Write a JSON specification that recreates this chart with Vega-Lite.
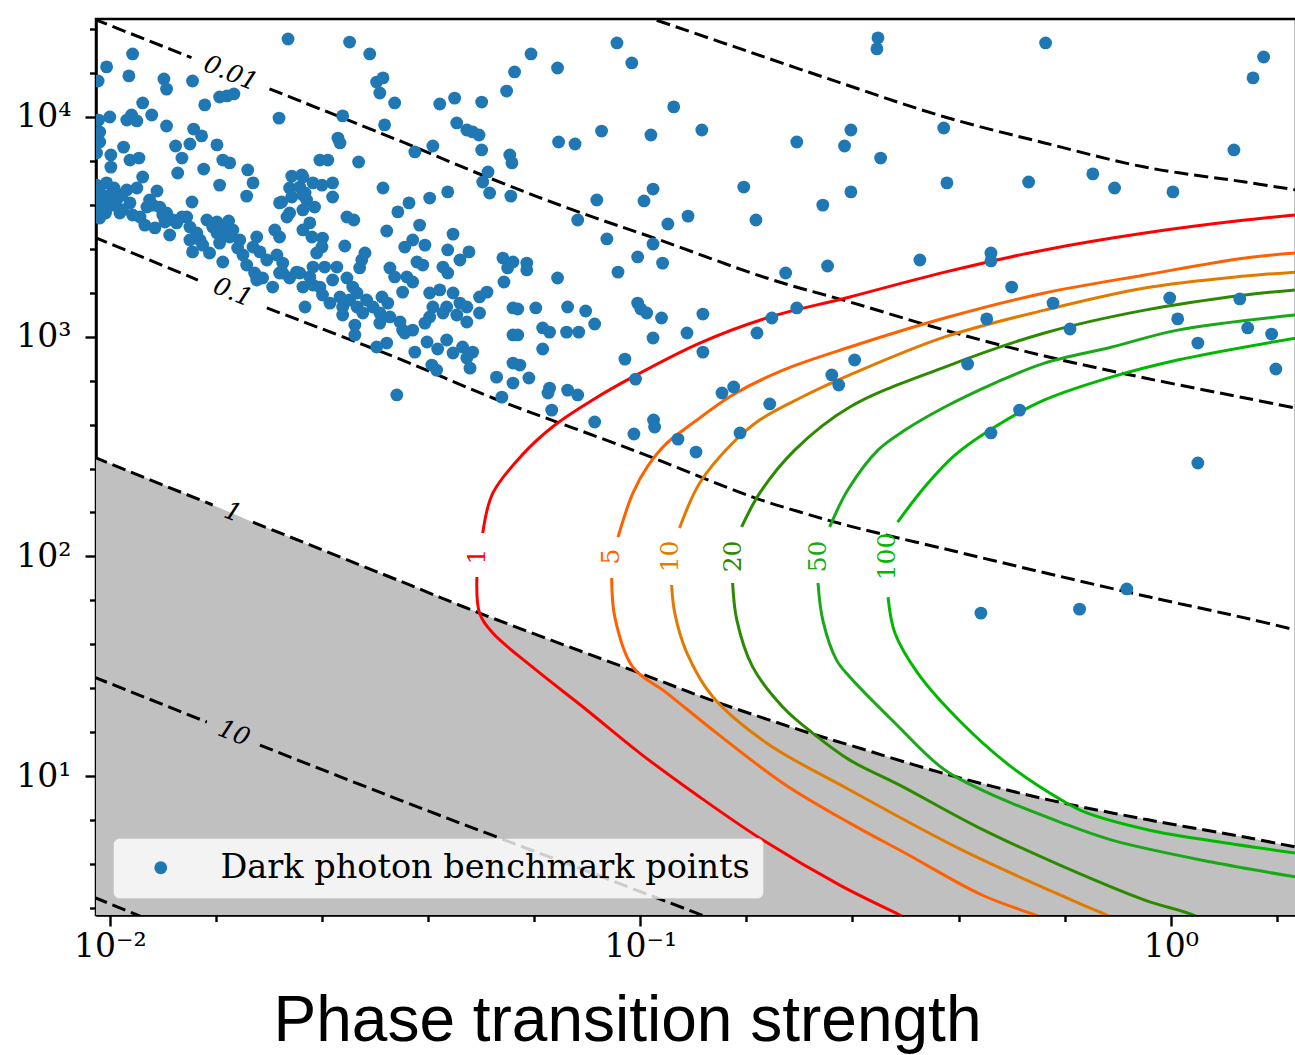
{
  "$schema": "https://vega.github.io/schema/vega-lite/v6.json",
  "width": 1200,
  "height": 896,
  "autosize": {"type": "none"},
  "padding": {"left": 96, "top": 19, "right": 0, "bottom": 140},
  "background": "white",
  "config": {
    "view": {"stroke": "black", "strokeWidth": 2.5},
    "axis": {"grid": false, "domainColor": "black", "domainWidth": 2.5, "tickColor": "black", "tickWidth": 2.4, "labelColor": "black", "labelFont": "DejaVu Serif", "labelFontSize": 33, "zindex": 1, "labelOverlap": false, "labelFlush": false}
  },
  "datasets": {
    "shade": [
      {"lx":-2.030,"ly":2.452},{"lx":-1.806,"ly":2.234},{"lx":-1.730,"ly":2.156},{"lx":-1.453,"ly":1.888},{"lx":-1.303,"ly":1.742},{"lx":-1.001,"ly":1.469},{"lx":-0.856,"ly":1.337},{"lx":-0.686,"ly":1.200},{"lx":-0.605,"ly":1.141},{"lx":-0.417,"ly":1.005},{"lx":-0.228,"ly":0.891},{"lx":-0.040,"ly":0.800},{"lx":0.149,"ly":0.718},{"lx":0.236,"ly":0.677}
    ],
    "dash": [
      {"seg":"a","o":0,"lx":-1.076,"ly":4.528},{"seg":"a","o":1,"lx":-0.976,"ly":4.446},{"seg":"a","o":2,"lx":-0.794,"ly":4.296},{"seg":"a","o":3,"lx":-0.605,"ly":4.141},{"seg":"a","o":4,"lx":-0.426,"ly":4.0},{"seg":"a","o":5,"lx":-0.238,"ly":3.882},{"seg":"a","o":6,"lx":-0.049,"ly":3.772},{"seg":"a","o":7,"lx":0.140,"ly":3.704},{"seg":"a","o":8,"lx":0.236,"ly":3.668},
      {"seg":"b1","o":0,"lx":-2.030,"ly":4.446},{"seg":"b1","o":1,"lx":-1.846,"ly":4.270},
      {"seg":"b2","o":0,"lx":-1.699,"ly":4.128},{"seg":"b2","o":1,"lx":-1.453,"ly":3.891},{"seg":"b2","o":2,"lx":-1.284,"ly":3.722},{"seg":"b2","o":3,"lx":-1.127,"ly":3.577},{"seg":"b2","o":4,"lx":-0.963,"ly":3.440},{"seg":"b2","o":5,"lx":-0.762,"ly":3.267},{"seg":"b2","o":6,"lx":-0.605,"ly":3.158},{"seg":"b2","o":7,"lx":-0.426,"ly":3.030},{"seg":"b2","o":8,"lx":-0.238,"ly":2.912},{"seg":"b2","o":9,"lx":-0.049,"ly":2.812},{"seg":"b2","o":10,"lx":0.140,"ly":2.721},{"seg":"b2","o":11,"lx":0.236,"ly":2.675},
      {"seg":"c1","o":0,"lx":-2.030,"ly":3.454},{"seg":"c1","o":1,"lx":-1.834,"ly":3.258},
      {"seg":"c2","o":0,"lx":-1.704,"ly":3.131},{"seg":"c2","o":1,"lx":-1.453,"ly":2.898},{"seg":"c2","o":2,"lx":-1.278,"ly":2.721},{"seg":"c2","o":3,"lx":-1.014,"ly":2.484},{"seg":"c2","o":4,"lx":-0.788,"ly":2.270},{"seg":"c2","o":5,"lx":-0.699,"ly":2.202},{"seg":"c2","o":6,"lx":-0.605,"ly":2.138},{"seg":"c2","o":7,"lx":-0.417,"ly":2.029},{"seg":"c2","o":8,"lx":-0.228,"ly":1.920},{"seg":"c2","o":9,"lx":-0.040,"ly":1.815},{"seg":"c2","o":10,"lx":0.149,"ly":1.715},{"seg":"c2","o":11,"lx":0.236,"ly":1.665},
      {"seg":"d1","o":0,"lx":-2.030,"ly":2.452},{"seg":"d1","o":1,"lx":-1.806,"ly":2.234},
      {"seg":"d2","o":0,"lx":-1.730,"ly":2.156},{"seg":"d2","o":1,"lx":-1.453,"ly":1.888},{"seg":"d2","o":2,"lx":-1.303,"ly":1.742},{"seg":"d2","o":3,"lx":-1.001,"ly":1.469},{"seg":"d2","o":4,"lx":-0.856,"ly":1.337},{"seg":"d2","o":5,"lx":-0.686,"ly":1.200},{"seg":"d2","o":6,"lx":-0.605,"ly":1.141},{"seg":"d2","o":7,"lx":-0.417,"ly":1.005},{"seg":"d2","o":8,"lx":-0.228,"ly":0.891},{"seg":"d2","o":9,"lx":-0.040,"ly":0.800},{"seg":"d2","o":10,"lx":0.149,"ly":0.718},{"seg":"d2","o":11,"lx":0.236,"ly":0.677},
      {"seg":"e1","o":0,"lx":-2.030,"ly":1.451},{"seg":"e1","o":1,"lx":-1.817,"ly":1.246},
      {"seg":"e2","o":0,"lx":-1.717,"ly":1.141},{"seg":"e2","o":1,"lx":-1.453,"ly":0.891},{"seg":"e2","o":2,"lx":-1.265,"ly":0.718},{"seg":"e2","o":3,"lx":-1.076,"ly":0.545},{"seg":"e2","o":4,"lx":-0.850,"ly":0.336},
      {"seg":"f","o":0,"lx":-2.030,"ly":0.449},{"seg":"f","o":1,"lx":-1.934,"ly":0.354}
    ],
    "cont": [
      {"level":"1","seg":"1a","o":0,"lx":0.236,"ly":3.554},{"level":"1","seg":"1a","o":1,"lx":0.140,"ly":3.531},{"level":"1","seg":"1a","o":2,"lx":-0.049,"ly":3.472},{"level":"1","seg":"1a","o":3,"lx":-0.238,"ly":3.395},{"level":"1","seg":"1a","o":4,"lx":-0.426,"ly":3.294},{"level":"1","seg":"1a","o":5,"lx":-0.605,"ly":3.181},{"level":"1","seg":"1a","o":6,"lx":-0.762,"ly":3.085},{"level":"1","seg":"1a","o":7,"lx":-0.888,"ly":2.971},{"level":"1","seg":"1a","o":8,"lx":-1.014,"ly":2.817},{"level":"1","seg":"1a","o":9,"lx":-1.090,"ly":2.712},{"level":"1","seg":"1a","o":10,"lx":-1.161,"ly":2.598},{"level":"1","seg":"1a","o":11,"lx":-1.223,"ly":2.461},{"level":"1","seg":"1a","o":12,"lx":-1.278,"ly":2.288},{"level":"1","seg":"1a","o":13,"lx":-1.297,"ly":2.106},
      {"level":"1","seg":"1b","o":0,"lx":-1.308,"ly":1.906},{"level":"1","seg":"1b","o":1,"lx":-1.303,"ly":1.742},{"level":"1","seg":"1b","o":2,"lx":-1.278,"ly":1.651},{"level":"1","seg":"1b","o":3,"lx":-1.203,"ly":1.496},{"level":"1","seg":"1b","o":4,"lx":-1.101,"ly":1.301},{"level":"1","seg":"1b","o":5,"lx":-1.001,"ly":1.105},{"level":"1","seg":"1b","o":6,"lx":-0.888,"ly":0.905},{"level":"1","seg":"1b","o":7,"lx":-0.769,"ly":0.709},{"level":"1","seg":"1b","o":8,"lx":-0.624,"ly":0.504},{"level":"1","seg":"1b","o":9,"lx":-0.511,"ly":0.368},{"level":"1","seg":"1b","o":10,"lx":-0.454,"ly":0.299},
      {"level":"5","seg":"5a","o":0,"lx":0.236,"ly":3.381},{"level":"5","seg":"5a","o":1,"lx":0.140,"ly":3.358},{"level":"5","seg":"5a","o":2,"lx":-0.049,"ly":3.281},{"level":"5","seg":"5a","o":3,"lx":-0.238,"ly":3.199},{"level":"5","seg":"5a","o":4,"lx":-0.426,"ly":3.085},{"level":"5","seg":"5a","o":5,"lx":-0.605,"ly":2.953},{"level":"5","seg":"5a","o":6,"lx":-0.731,"ly":2.848},{"level":"5","seg":"5a","o":7,"lx":-0.826,"ly":2.735},{"level":"5","seg":"5a","o":8,"lx":-0.901,"ly":2.607},{"level":"5","seg":"5a","o":9,"lx":-0.950,"ly":2.516},{"level":"5","seg":"5a","o":10,"lx":-0.986,"ly":2.411},{"level":"5","seg":"5a","o":11,"lx":-1.014,"ly":2.288},{"level":"5","seg":"5a","o":12,"lx":-1.042,"ly":2.088},
      {"level":"5","seg":"5b","o":0,"lx":-1.054,"ly":1.902},{"level":"5","seg":"5b","o":1,"lx":-1.048,"ly":1.724},{"level":"5","seg":"5b","o":2,"lx":-1.014,"ly":1.496},{"level":"5","seg":"5b","o":3,"lx":-0.950,"ly":1.378},{"level":"5","seg":"5b","o":4,"lx":-0.856,"ly":1.196},{"level":"5","seg":"5b","o":5,"lx":-0.731,"ly":0.968},{"level":"5","seg":"5b","o":6,"lx":-0.605,"ly":0.786},{"level":"5","seg":"5b","o":7,"lx":-0.501,"ly":0.650},{"level":"5","seg":"5b","o":8,"lx":-0.356,"ly":0.459},{"level":"5","seg":"5b","o":9,"lx":-0.256,"ly":0.368},{"level":"5","seg":"5b","o":10,"lx":-0.190,"ly":0.308},
      {"level":"10","seg":"10a","o":0,"lx":0.236,"ly":3.294},{"level":"10","seg":"10a","o":1,"lx":0.140,"ly":3.276},{"level":"10","seg":"10a","o":2,"lx":-0.049,"ly":3.222},{"level":"10","seg":"10a","o":3,"lx":-0.238,"ly":3.121},{"level":"10","seg":"10a","o":4,"lx":-0.426,"ly":2.999},{"level":"10","seg":"10a","o":5,"lx":-0.605,"ly":2.826},{"level":"10","seg":"10a","o":6,"lx":-0.699,"ly":2.721},{"level":"10","seg":"10a","o":7,"lx":-0.775,"ly":2.621},{"level":"10","seg":"10a","o":8,"lx":-0.826,"ly":2.516},{"level":"10","seg":"10a","o":9,"lx":-0.888,"ly":2.334},{"level":"10","seg":"10a","o":10,"lx":-0.926,"ly":2.129},
      {"level":"10","seg":"10b","o":0,"lx":-0.941,"ly":1.870},{"level":"10","seg":"10b","o":1,"lx":-0.935,"ly":1.742},{"level":"10","seg":"10b","o":2,"lx":-0.912,"ly":1.560},{"level":"10","seg":"10b","o":3,"lx":-0.863,"ly":1.360},{"level":"10","seg":"10b","o":4,"lx":-0.762,"ly":1.151},{"level":"10","seg":"10b","o":5,"lx":-0.605,"ly":0.937},{"level":"10","seg":"10b","o":6,"lx":-0.394,"ly":0.664},{"level":"10","seg":"10b","o":7,"lx":-0.187,"ly":0.436},{"level":"10","seg":"10b","o":8,"lx":-0.121,"ly":0.368},{"level":"10","seg":"10b","o":9,"lx":-0.058,"ly":0.299},
      {"level":"20","seg":"20a","o":0,"lx":0.236,"ly":3.213},{"level":"20","seg":"20a","o":1,"lx":0.140,"ly":3.190},{"level":"20","seg":"20a","o":2,"lx":-0.049,"ly":3.121},{"level":"20","seg":"20a","o":3,"lx":-0.238,"ly":3.017},{"level":"20","seg":"20a","o":4,"lx":-0.426,"ly":2.862},{"level":"20","seg":"20a","o":5,"lx":-0.605,"ly":2.680},{"level":"20","seg":"20a","o":6,"lx":-0.709,"ly":2.484},{"level":"20","seg":"20a","o":7,"lx":-0.775,"ly":2.288},{"level":"20","seg":"20a","o":8,"lx":-0.809,"ly":2.134},
      {"level":"20","seg":"20b","o":0,"lx":-0.826,"ly":1.879},{"level":"20","seg":"20b","o":1,"lx":-0.818,"ly":1.710},{"level":"20","seg":"20b","o":2,"lx":-0.788,"ly":1.496},{"level":"20","seg":"20b","o":3,"lx":-0.731,"ly":1.314},{"level":"20","seg":"20b","o":4,"lx":-0.675,"ly":1.196},{"level":"20","seg":"20b","o":5,"lx":-0.605,"ly":1.073},{"level":"20","seg":"20b","o":6,"lx":-0.511,"ly":0.959},{"level":"20","seg":"20b","o":7,"lx":-0.364,"ly":0.768},{"level":"20","seg":"20b","o":8,"lx":-0.209,"ly":0.595},{"level":"20","seg":"20b","o":9,"lx":-0.049,"ly":0.436},{"level":"20","seg":"20b","o":10,"lx":0.042,"ly":0.368},{"level":"20","seg":"20b","o":11,"lx":0.102,"ly":0.299},
      {"level":"50","seg":"50a","o":0,"lx":0.236,"ly":3.099},{"level":"50","seg":"50a","o":1,"lx":0.013,"ly":3.030},{"level":"50","seg":"50a","o":2,"lx":-0.111,"ly":2.953},{"level":"50","seg":"50a","o":3,"lx":-0.238,"ly":2.880},{"level":"50","seg":"50a","o":4,"lx":-0.332,"ly":2.789},{"level":"50","seg":"50a","o":5,"lx":-0.426,"ly":2.680},{"level":"50","seg":"50a","o":6,"lx":-0.501,"ly":2.575},{"level":"50","seg":"50a","o":7,"lx":-0.552,"ly":2.484},{"level":"50","seg":"50a","o":8,"lx":-0.609,"ly":2.302},{"level":"50","seg":"50a","o":9,"lx":-0.643,"ly":2.134},
      {"level":"50","seg":"50b","o":0,"lx":-0.665,"ly":1.879},{"level":"50","seg":"50b","o":1,"lx":-0.656,"ly":1.710},{"level":"50","seg":"50b","o":2,"lx":-0.630,"ly":1.528},{"level":"50","seg":"50b","o":3,"lx":-0.605,"ly":1.451},{"level":"50","seg":"50b","o":4,"lx":-0.520,"ly":1.242},{"level":"50","seg":"50b","o":5,"lx":-0.426,"ly":1.028},{"level":"50","seg":"50b","o":6,"lx":-0.322,"ly":0.900},{"level":"50","seg":"50b","o":7,"lx":-0.209,"ly":0.791},{"level":"50","seg":"50b","o":8,"lx":-0.111,"ly":0.709},{"level":"50","seg":"50b","o":9,"lx":0.077,"ly":0.609},{"level":"50","seg":"50b","o":10,"lx":0.236,"ly":0.541},
      {"level":"100","seg":"100a","o":0,"lx":0.236,"ly":2.994},{"level":"100","seg":"100a","o":1,"lx":0.013,"ly":2.894},{"level":"100","seg":"100a","o":2,"lx":-0.111,"ly":2.817},{"level":"100","seg":"100a","o":3,"lx":-0.238,"ly":2.712},{"level":"100","seg":"100a","o":4,"lx":-0.332,"ly":2.589},{"level":"100","seg":"100a","o":5,"lx":-0.407,"ly":2.461},{"level":"100","seg":"100a","o":6,"lx":-0.464,"ly":2.316},{"level":"100","seg":"100a","o":7,"lx":-0.515,"ly":2.156},
      {"level":"100","seg":"100b","o":0,"lx":-0.533,"ly":1.815},{"level":"100","seg":"100b","o":1,"lx":-0.520,"ly":1.651},{"level":"100","seg":"100b","o":2,"lx":-0.477,"ly":1.469},{"level":"100","seg":"100b","o":3,"lx":-0.394,"ly":1.242},{"level":"100","seg":"100b","o":4,"lx":-0.300,"ly":1.041},{"level":"100","seg":"100b","o":5,"lx":-0.206,"ly":0.891},{"level":"100","seg":"100b","o":6,"lx":-0.162,"ly":0.836},{"level":"100","seg":"100b","o":7,"lx":-0.040,"ly":0.754},{"level":"100","seg":"100b","o":8,"lx":0.092,"ly":0.700},{"level":"100","seg":"100b","o":9,"lx":0.236,"ly":0.650}
    ],
    "dlab": [
      {"t":"0.01","lx":-1.772,"ly":4.200},{"t":"0.1","lx":-1.768,"ly":3.203},{"t":"1","lx":-1.768,"ly":2.202},{"t":"10","lx":-1.766,"ly":1.196}
    ],
    "clab": [
      {"level":"1","lx":-1.308,"ly":2.0},{"level":"5","lx":-1.056,"ly":2.0},{"level":"10","lx":-0.944,"ly":2.0},{"level":"20","lx":-0.826,"ly":2.0},{"level":"50","lx":-0.665,"ly":2.0},{"level":"100","lx":-0.535,"ly":2.0}
    ],
    "pts": [
      {"lx":-1.664,"ly":4.355},{"lx":-1.957,"ly":4.287},{"lx":-2.006,"ly":4.228},{"lx":-1.964,"ly":4.187},{"lx":-1.898,"ly":4.173},{"lx":-1.893,"ly":4.127},{"lx":-1.844,"ly":4.164},{"lx":-2.022,"ly":4.164},{"lx":-1.793,"ly":4.091},{"lx":-1.779,"ly":4.096},
      {"lx":-1.766,"ly":4.105},{"lx":-1.821,"ly":4.055},{"lx":-1.681,"ly":3.995},{"lx":-1.938,"ly":4.064},{"lx":-1.921,"ly":4.009},{"lx":-2.0,"ly":4.0},{"lx":-2.021,"ly":3.986},{"lx":-1.968,"ly":3.986},{"lx":-1.959,"ly":4.009},{"lx":-1.949,"ly":3.982},
      {"lx":-1.893,"ly":3.959},{"lx":-1.842,"ly":3.945},{"lx":-1.827,"ly":3.914},{"lx":-1.849,"ly":3.877},{"lx":-1.876,"ly":3.868},{"lx":-1.798,"ly":3.873},{"lx":-2.019,"ly":3.886},{"lx":-1.974,"ly":3.863},{"lx":-1.998,"ly":3.827},{"lx":-2.025,"ly":3.836},
      {"lx":-1.962,"ly":3.804},{"lx":-1.945,"ly":3.813},{"lx":-1.864,"ly":3.813},{"lx":-1.998,"ly":3.772},{"lx":-1.787,"ly":3.804},{"lx":-1.774,"ly":3.791},{"lx":-1.823,"ly":3.763},{"lx":-1.872,"ly":3.745},{"lx":-1.938,"ly":3.727},{"lx":-1.740,"ly":3.759},
      {"lx":-1.730,"ly":3.700},{"lx":-1.793,"ly":3.690},{"lx":-1.657,"ly":3.731},{"lx":-1.638,"ly":3.736},{"lx":-1.911,"ly":3.663},{"lx":-1.742,"ly":3.640},{"lx":-1.845,"ly":3.613},{"lx":-1.661,"ly":3.677},{"lx":-1.642,"ly":3.681},{"lx":-1.676,"ly":3.613},
      {"lx":-1.657,"ly":3.636},{"lx":-1.636,"ly":3.645},{"lx":-2.019,"ly":3.932},{"lx":-2.025,"ly":3.690},{"lx":-2.019,"ly":3.659},{"lx":-2.025,"ly":3.622},{"lx":-2.013,"ly":3.599},{"lx":-2.019,"ly":3.577},{"lx":-2.008,"ly":3.563},{"lx":-2.019,"ly":3.540},
      {"lx":-2.0,"ly":3.645},{"lx":-1.996,"ly":3.599},{"lx":-1.987,"ly":3.622},{"lx":-1.976,"ly":3.577},{"lx":-1.962,"ly":3.609},{"lx":-1.943,"ly":3.545},{"lx":-1.930,"ly":3.590},{"lx":-1.925,"ly":3.622},{"lx":-1.919,"ly":3.599},{"lx":-1.977,"ly":3.645},
      {"lx":-1.949,"ly":3.677},{"lx":-1.906,"ly":3.590},{"lx":-1.893,"ly":3.563},{"lx":-1.881,"ly":3.531},{"lx":-1.864,"ly":3.545},{"lx":-1.900,"ly":3.554},{"lx":-1.915,"ly":3.495},{"lx":-1.887,"ly":3.463},{"lx":-1.896,"ly":3.522},{"lx":-1.874,"ly":3.518},
      {"lx":-1.855,"ly":3.545},{"lx":-1.849,"ly":3.499},{"lx":-1.836,"ly":3.472},{"lx":-1.830,"ly":3.440},{"lx":-1.817,"ly":3.531},{"lx":-1.806,"ly":3.499},{"lx":-1.793,"ly":3.472},{"lx":-1.779,"ly":3.499},{"lx":-1.768,"ly":3.486},{"lx":-1.755,"ly":3.440},
      {"lx":-1.798,"ly":3.522},{"lx":-1.776,"ly":3.527},{"lx":-1.849,"ly":3.440},{"lx":-1.844,"ly":3.386},{"lx":-1.825,"ly":3.417},{"lx":-1.812,"ly":3.381},{"lx":-1.793,"ly":3.426},{"lx":-1.787,"ly":3.340},{"lx":-1.798,"ly":3.472},{"lx":-1.774,"ly":3.454},
      {"lx":-1.759,"ly":3.404},{"lx":-1.749,"ly":3.372},{"lx":-1.742,"ly":3.326},{"lx":-1.723,"ly":3.454},{"lx":-1.717,"ly":3.386},{"lx":-1.704,"ly":3.349},{"lx":-1.727,"ly":3.290},{"lx":-1.712,"ly":3.267},{"lx":-1.693,"ly":3.226},{"lx":-1.685,"ly":3.372},
      {"lx":-1.674,"ly":3.290},{"lx":-1.661,"ly":3.267},{"lx":-1.648,"ly":3.294},{"lx":-1.636,"ly":3.226},{"lx":-1.623,"ly":3.272},{"lx":-1.632,"ly":3.135},{"lx":-1.680,"ly":3.609},{"lx":-1.666,"ly":3.545},{"lx":-1.636,"ly":3.577},{"lx":-1.623,"ly":3.518},
      {"lx":-1.689,"ly":3.486},{"lx":-1.680,"ly":3.454},{"lx":-1.730,"ly":3.408},{"lx":-1.723,"ly":3.258},{"lx":-1.680,"ly":3.290},{"lx":-1.674,"ly":3.335},{"lx":-1.661,"ly":3.563},{"lx":-1.629,"ly":3.622},{"lx":-1.614,"ly":3.590},{"lx":-1.636,"ly":3.486},
      {"lx":-1.619,"ly":3.454},{"lx":-1.617,"ly":3.700},{"lx":-1.600,"ly":3.690},{"lx":-1.580,"ly":3.700},{"lx":-1.580,"ly":3.636},{"lx":-1.992,"ly":3.677},{"lx":-2.013,"ly":3.636},{"lx":-2.006,"ly":3.700},{"lx":-1.981,"ly":3.563},{"lx":-1.957,"ly":3.554},
      {"lx":-1.934,"ly":3.508},{"lx":-1.968,"ly":3.668},{"lx":-1.604,"ly":3.804},{"lx":-1.589,"ly":3.804},{"lx":-1.531,"ly":3.795},{"lx":-1.425,"ly":3.841},{"lx":-1.299,"ly":3.850},{"lx":-1.246,"ly":3.827},{"lx":-1.242,"ly":3.791},{"lx":-1.287,"ly":3.750},
      {"lx":-1.297,"ly":3.704},{"lx":-1.284,"ly":3.654},{"lx":-1.244,"ly":3.640},{"lx":-1.636,"ly":3.727},{"lx":-1.632,"ly":3.654},{"lx":-1.485,"ly":3.677},{"lx":-1.397,"ly":3.631},{"lx":-1.363,"ly":3.659},{"lx":-1.436,"ly":3.609},{"lx":-1.457,"ly":3.568},
      {"lx":-1.553,"ly":3.545},{"lx":-1.540,"ly":3.531},{"lx":-1.416,"ly":3.508},{"lx":-1.478,"ly":3.481},{"lx":-1.353,"ly":3.467},{"lx":-1.599,"ly":3.449},{"lx":-1.600,"ly":3.408},{"lx":-1.610,"ly":3.381},{"lx":-1.557,"ly":3.413},{"lx":-1.519,"ly":3.381},
      {"lx":-1.525,"ly":3.349},{"lx":-1.529,"ly":3.313},{"lx":-1.444,"ly":3.408},{"lx":-1.429,"ly":3.440},{"lx":-1.406,"ly":3.417},{"lx":-1.363,"ly":3.395},{"lx":-1.340,"ly":3.349},{"lx":-1.323,"ly":3.386},{"lx":-1.372,"ly":3.317},{"lx":-1.363,"ly":3.290},
      {"lx":-1.421,"ly":3.340},{"lx":-1.410,"ly":3.326},{"lx":-1.617,"ly":3.317},{"lx":-1.595,"ly":3.317},{"lx":-1.572,"ly":3.317},{"lx":-1.642,"ly":3.290},{"lx":-1.617,"ly":3.235},{"lx":-1.604,"ly":3.226},{"lx":-1.580,"ly":3.258},{"lx":-1.553,"ly":3.267},
      {"lx":-1.542,"ly":3.226},{"lx":-1.534,"ly":3.199},{"lx":-1.472,"ly":3.313},{"lx":-1.463,"ly":3.272},{"lx":-1.440,"ly":3.272},{"lx":-1.429,"ly":3.249},{"lx":-1.448,"ly":3.203},{"lx":-1.599,"ly":3.190},{"lx":-1.585,"ly":3.153},{"lx":-1.566,"ly":3.181},
      {"lx":-1.561,"ly":3.135},{"lx":-1.548,"ly":3.167},{"lx":-1.534,"ly":3.135},{"lx":-1.516,"ly":3.167},{"lx":-1.504,"ly":3.135},{"lx":-1.487,"ly":3.181},{"lx":-1.476,"ly":3.153},{"lx":-1.561,"ly":3.099},{"lx":-1.523,"ly":3.108},{"lx":-1.491,"ly":3.108},
      {"lx":-1.472,"ly":3.090},{"lx":-1.538,"ly":3.053},{"lx":-1.538,"ly":3.008},{"lx":-1.491,"ly":3.062},{"lx":-1.453,"ly":3.067},{"lx":-1.448,"ly":3.030},{"lx":-1.429,"ly":3.030},{"lx":-1.397,"ly":3.199},{"lx":-1.378,"ly":3.213},{"lx":-1.353,"ly":3.199},
      {"lx":-1.365,"ly":3.135},{"lx":-1.340,"ly":3.153},{"lx":-1.327,"ly":3.135},{"lx":-1.391,"ly":3.135},{"lx":-1.397,"ly":3.090},{"lx":-1.372,"ly":3.108},{"lx":-1.346,"ly":3.099},{"lx":-1.327,"ly":3.067},{"lx":-1.406,"ly":3.062},{"lx":-1.303,"ly":3.181},
      {"lx":-1.289,"ly":3.203},{"lx":-1.303,"ly":3.108},{"lx":-1.259,"ly":3.358},{"lx":-1.240,"ly":3.340},{"lx":-1.250,"ly":3.313},{"lx":-1.257,"ly":3.249},{"lx":-1.240,"ly":3.131},{"lx":-1.240,"ly":3.008},{"lx":-1.402,"ly":2.976},{"lx":-1.382,"ly":2.944},
      {"lx":-1.365,"ly":2.985},{"lx":-1.353,"ly":2.926},{"lx":-1.335,"ly":2.953},{"lx":-1.316,"ly":2.930},{"lx":-1.327,"ly":2.903},{"lx":-1.497,"ly":2.953},{"lx":-1.478,"ly":2.971},{"lx":-1.425,"ly":2.930},{"lx":-1.393,"ly":2.871},{"lx":-1.384,"ly":2.848},
      {"lx":-1.321,"ly":2.857},{"lx":-1.271,"ly":2.816},{"lx":-1.240,"ly":2.880},{"lx":-1.240,"ly":2.789},{"lx":-1.261,"ly":2.725},{"lx":-1.459,"ly":2.735},{"lx":-1.444,"ly":3.017},{"lx":-1.548,"ly":4.341},{"lx":-1.510,"ly":4.287},{"lx":-1.497,"ly":4.159},
      {"lx":-1.485,"ly":4.178},{"lx":-1.491,"ly":4.109},{"lx":-1.463,"ly":4.064},{"lx":-1.561,"ly":4.005},{"lx":-1.482,"ly":3.964},{"lx":-1.570,"ly":3.904},{"lx":-1.566,"ly":3.882},{"lx":-1.044,"ly":4.337},{"lx":-1.016,"ly":4.246},{"lx":-1.206,"ly":4.287},
      {"lx":-1.237,"ly":4.205},{"lx":-1.156,"ly":4.223},{"lx":-1.252,"ly":4.118},{"lx":-1.378,"ly":4.059},{"lx":-1.350,"ly":4.086},{"lx":-1.299,"ly":4.068},{"lx":-1.346,"ly":3.973},{"lx":-1.327,"ly":3.941},{"lx":-1.316,"ly":3.932},{"lx":-1.304,"ly":3.918},
      {"lx":-1.391,"ly":3.868},{"lx":-0.937,"ly":4.046},{"lx":-1.073,"ly":3.936},{"lx":-0.980,"ly":3.918},{"lx":-0.884,"ly":3.941},{"lx":-1.154,"ly":3.886},{"lx":-1.123,"ly":3.877},{"lx":-0.705,"ly":3.886},{"lx":-0.615,"ly":3.868},{"lx":-0.603,"ly":3.941},
      {"lx":-0.603,"ly":3.659},{"lx":-1.082,"ly":3.622},{"lx":-0.976,"ly":3.672},{"lx":-0.993,"ly":3.618},{"lx":-0.805,"ly":3.681},{"lx":-0.656,"ly":3.599},{"lx":-1.118,"ly":3.531},{"lx":-0.910,"ly":3.549},{"lx":-0.948,"ly":3.513},{"lx":-0.782,"ly":3.531},
      {"lx":-1.063,"ly":3.445},{"lx":-0.976,"ly":3.422},{"lx":-1.005,"ly":3.363},{"lx":-0.958,"ly":3.335},{"lx":-1.042,"ly":3.294},{"lx":-0.726,"ly":3.290},{"lx":-0.647,"ly":3.322},{"lx":-1.214,"ly":3.335},{"lx":-1.214,"ly":3.304},{"lx":-1.156,"ly":3.267},
      {"lx":-1.231,"ly":3.126},{"lx":-1.197,"ly":3.131},{"lx":-1.137,"ly":3.135},{"lx":-1.103,"ly":3.117},{"lx":-1.086,"ly":3.058},{"lx":-1.005,"ly":3.153},{"lx":-0.999,"ly":3.126},{"lx":-0.988,"ly":3.108},{"lx":-0.960,"ly":3.085},{"lx":-0.882,"ly":3.103},
      {"lx":-0.752,"ly":3.085},{"lx":-0.705,"ly":3.131},{"lx":-1.231,"ly":3.008},{"lx":-1.184,"ly":3.040},{"lx":-1.171,"ly":3.021},{"lx":-1.139,"ly":3.021},{"lx":-1.116,"ly":3.021},{"lx":-1.184,"ly":2.944},{"lx":-0.976,"ly":2.994},{"lx":-0.912,"ly":3.017},
      {"lx":-0.780,"ly":3.017},{"lx":-0.882,"ly":2.930},{"lx":-1.029,"ly":2.898},{"lx":-1.227,"ly":2.871},{"lx":-1.210,"ly":2.812},{"lx":-1.171,"ly":2.766},{"lx":-1.174,"ly":2.744},{"lx":-1.137,"ly":2.757},{"lx":-1.118,"ly":2.735},{"lx":-1.167,"ly":2.666},
      {"lx":-1.009,"ly":2.807},{"lx":-1.086,"ly":2.612},{"lx":-1.012,"ly":2.557},{"lx":-0.975,"ly":2.621},{"lx":-0.973,"ly":2.589},{"lx":-0.929,"ly":2.534},{"lx":-0.895,"ly":2.475},{"lx":-0.846,"ly":2.744},{"lx":-0.824,"ly":2.771},{"lx":-0.756,"ly":2.694},
      {"lx":-0.812,"ly":2.562},{"lx":-0.639,"ly":2.826},{"lx":-0.626,"ly":2.780},{"lx":-0.552,"ly":4.360},{"lx":-0.554,"ly":4.310},{"lx":-0.236,"ly":4.337},{"lx":0.175,"ly":4.273},{"lx":0.155,"ly":4.178},{"lx":-0.428,"ly":3.950},{"lx":-0.547,"ly":3.813},
      {"lx":0.119,"ly":3.850},{"lx":-0.422,"ly":3.700},{"lx":-0.268,"ly":3.704},{"lx":-0.147,"ly":3.741},{"lx":-0.106,"ly":3.677},{"lx":0.004,"ly":3.659},{"lx":-0.473,"ly":3.349},{"lx":-0.339,"ly":3.381},{"lx":-0.339,"ly":3.345},{"lx":-0.300,"ly":3.226},
      {"lx":-0.222,"ly":3.153},{"lx":-0.002,"ly":3.176},{"lx":0.130,"ly":3.172},{"lx":-0.347,"ly":3.081},{"lx":0.013,"ly":3.081},{"lx":-0.190,"ly":3.035},{"lx":0.145,"ly":3.040},{"lx":0.190,"ly":3.012},{"lx":0.051,"ly":2.971},{"lx":-0.596,"ly":2.894},
      {"lx":-0.383,"ly":2.876},{"lx":0.198,"ly":2.853},{"lx":-0.285,"ly":2.666},{"lx":-0.339,"ly":2.562},{"lx":0.051,"ly":2.425},{"lx":-0.083,"ly":1.852},{"lx":-0.172,"ly":1.760},{"lx":-0.358,"ly":1.742}
    ]
  },
  "encoding": {
    "x": {"field": "lx", "type": "quantitative",
      "scale": {"domain": [-2.026, 0.236], "nice": false, "zero": false},
      "axis": {
        "values": [-2, -1.8, -1.6, -1.4, -1.2, -1, -0.8, -0.6, -0.4, -0.2, 0, 0.2],
        "labelExpr": "datum.value == -2 ? '10⁻²' : datum.value == -1 ? '10⁻¹' : datum.value == 0 ? '10⁰' : ''",
        "tickSize": {"condition": {"test": "abs(datum.value - round(datum.value)) < 0.01", "value": 11}, "value": 6.5},
        "labelPadding": 4,
        "title": "Phase transition strength",
        "titleFont": "Liberation Sans", "titleFontSize": 64, "titleFontWeight": "normal", "titleColor": "black",
        "titleX": 531, "titleY": 125, "titleBaseline": "alphabetic", "titleAlign": "center"
      }
    },
    "y": {"field": "ly", "type": "quantitative",
      "scale": {"domain": [0.368, 4.446], "nice": false, "zero": false},
      "axis": {
        "values": [0.4, 0.6, 0.8, 1, 1.2, 1.4, 1.6, 1.8, 2, 2.2, 2.4, 2.6, 2.8, 3, 3.2, 3.4, 3.6, 3.8, 4, 4.2, 4.4],
        "labelExpr": "datum.value == 1 ? '10¹' : datum.value == 2 ? '10²' : datum.value == 3 ? '10³' : datum.value == 4 ? '10⁴' : ''",
        "tickSize": {"condition": {"test": "abs(datum.value - round(datum.value)) < 0.01", "value": 11}, "value": 6.5},
        "labelPadding": 14,
        "title": null
      }
    }
  },
  "layer": [
    {
      "data": {"name": "shade"},
      "mark": {"type": "area", "color": "#c0c0c0", "clip": true, "orient": "vertical", "opacity": 1, "interpolate": "monotone"},
      "encoding": {"y2": {"datum": 0.0}}
    },
    {
      "data": {"name": "dash"},
      "mark": {"type": "line", "color": "black", "strokeWidth": 3, "strokeDash": [14, 6], "clip": true, "interpolate": "catmull-rom"},
      "encoding": {"detail": {"field": "seg", "type": "nominal"}, "order": {"field": "o", "type": "quantitative"}}
    },
    {
      "data": {"name": "cont"},
      "mark": {"type": "line", "strokeWidth": 3, "clip": true, "interpolate": "catmull-rom"},
      "encoding": {
        "detail": {"field": "seg", "type": "nominal"},
        "order": {"field": "o", "type": "quantitative"},
        "stroke": {"field": "level", "type": "nominal", "legend": null,
          "scale": {"domain": ["1", "5", "10", "20", "50", "100"], "range": ["#ff0000", "#ff6000", "#e27a00", "#2d8a00", "#18a818", "#00b800"]}}
      }
    },
    {
      "data": {"name": "dlab"},
      "mark": {"type": "text", "font": "DejaVu Serif", "fontSize": 25, "fontStyle": "italic", "color": "black", "angle": 22, "align": "center", "baseline": "middle"},
      "encoding": {"text": {"field": "t", "type": "nominal"}}
    },
    {
      "data": {"name": "clab"},
      "mark": {"type": "text", "font": "DejaVu Serif", "fontSize": 25, "angle": 270, "align": "center", "baseline": "middle"},
      "encoding": {
        "text": {"field": "level", "type": "nominal"},
        "fill": {"field": "level", "type": "nominal", "legend": null,
          "scale": {"domain": ["1", "5", "10", "20", "50", "100"], "range": ["#ff0000", "#ff6000", "#e27a00", "#2d8a00", "#18a818", "#00b800"]}}
      }
    },
    {
      "data": {"name": "pts"},
      "mark": {"type": "circle", "size": 165, "opacity": 1, "clip": true},
      "encoding": {
        "color": {"datum": "Dark photon benchmark points", "type": "nominal",
          "scale": {"range": ["#1f77b4"]},
          "legend": {"title": null, "orient": "none", "legendX": 17, "legendY": 819, "padding": 13,
            "fillColor": "rgba(255,255,255,0.8)", "strokeColor": "rgba(204,204,204,0.8)", "cornerRadius": 6,
            "labelFont": "DejaVu Serif", "labelFontSize": 33.5, "labelColor": "black", "labelLimit": 0,
            "symbolType": "circle", "symbolSize": 165, "symbolOpacity": 1, "symbolStrokeWidth": 0,
            "symbolOffset": 18, "labelOffset": 43, "zindex": 2}
        }
      }
    }
  ]
}
